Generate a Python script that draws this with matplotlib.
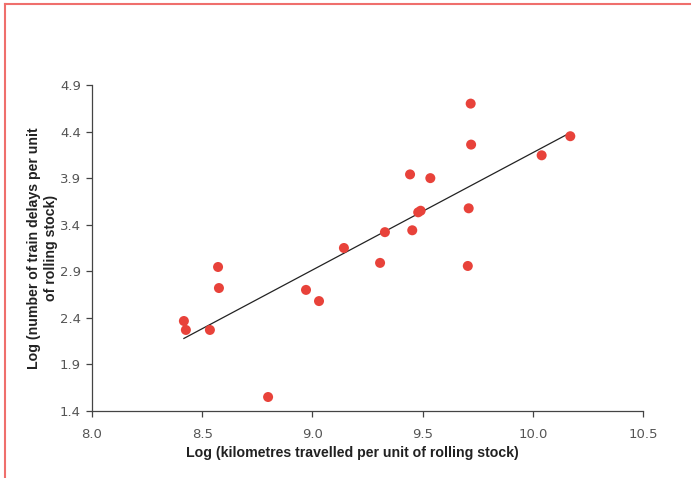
import numpy as np
import matplotlib
matplotlib.use("Agg")
import matplotlib.pyplot as plt
from matplotlib.lines import Line2D

# ── data ───────────────────────────────────────────────────────────────────────
log_km = [8.417, 8.426, 8.535, 8.572, 8.576, 8.799, 8.971, 9.030, 9.143,
          9.307, 9.329, 9.443, 9.453, 9.480, 9.491, 9.535, 9.705, 9.709,
          9.718, 9.720, 10.040, 10.170]
log_delays = [2.366, 2.270, 2.270, 2.946, 2.720, 1.550, 2.700, 2.580, 3.150,
              2.990, 3.320, 3.940, 3.340, 3.533, 3.550, 3.900, 2.957, 3.576,
              4.700, 4.260, 4.145, 4.350]

x_ticks = [8.0, 8.5, 9.0, 9.5, 10.0, 10.5]
y_ticks = [1.4, 1.9, 2.4, 2.9, 3.4, 3.9, 4.4, 4.9]

RED = "#e8423a"
FRAME = "#ef6f6c"
AXIS = "#444444"

fig = plt.figure(figsize=(6.91, 4.78), dpi=100)
ax = fig.add_axes([0.1331, 0.1402, 0.7975, 0.682])

ax.scatter(log_km, log_delays, s=52, color=RED, edgecolors="none", zorder=3)

# linear trendline
slope, icpt = np.polyfit(log_km, log_delays, 1)
xs = np.array([min(log_km), max(log_km)])
ax.plot(xs, slope * xs + icpt, color="#222222", lw=0.9, zorder=2)

ax.set_xlim(8.0, 10.5)
ax.set_ylim(1.4, 4.9)
ax.set_xticks(x_ticks)
ax.set_xticklabels([f"{v:.1f}" for v in x_ticks])
ax.set_yticks(y_ticks)
ax.set_yticklabels([f"{v:.1f}" for v in y_ticks])

for side in ("top", "right"):
    ax.spines[side].set_visible(False)
for side in ("left", "bottom"):
    ax.spines[side].set_color(AXIS)
    ax.spines[side].set_linewidth(0.9)
ax.tick_params(direction="out", length=4, width=0.9, color=AXIS,
               labelcolor="#555555", labelsize=9.5)
ax.tick_params(axis="x", pad=8)
ax.tick_params(axis="y", pad=4)

ax.set_xlabel("Log (kilometres travelled per unit of rolling stock)",
              fontsize=10.2, fontweight="bold", color="#222222",
              family="Liberation Sans")
ax.xaxis.set_label_coords(0.472, -0.108)
ax.set_ylabel("Log (number of train delays per unit\nof rolling stock)",
              fontsize=10.2, fontweight="bold", color="#222222",
              family="Liberation Sans", linespacing=1.3)
ax.yaxis.set_label_coords(-0.062, 0.5)

# red frame (top and left only)
fig.add_artist(Line2D([5 / 691, 1.0], [1 - 4 / 478, 1 - 4 / 478],
                      transform=fig.transFigure, color=FRAME, lw=1.5))
fig.add_artist(Line2D([5 / 691, 5 / 691], [1 - 4 / 478, 0.0],
                      transform=fig.transFigure, color=FRAME, lw=1.5))

fig.savefig("out.png", dpi=100)
